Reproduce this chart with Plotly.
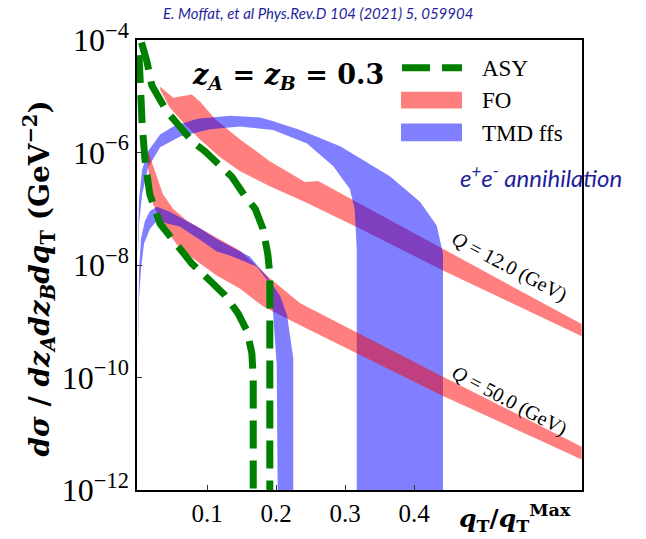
import plotly.graph_objects as go

# ---------------- data ----------------
# asymptotic (ASY) curves
asy12_x = [0.005, 0.013, 0.020, 0.032, 0.042, 0.054, 0.080, 0.097, 0.123, 0.136, 0.155, 0.170, 0.181, 0.188, 0.191, 0.191]
asy12_y = [9.0e-5, 4.1e-5, 1.55e-5, 8.7e-6, 5.3e-6, 3.6e-6, 1.51e-6, 1.05e-6, 5.4e-7, 3.7e-7, 1.68e-7, 9.9e-8, 4.4e-8, 1.59e-8, 7.0e-9, 1e-13]

asy50_x = [0.0014, 0.003, 0.006, 0.010, 0.017, 0.032, 0.054, 0.078, 0.104, 0.126, 0.145, 0.158, 0.165, 0.167, 0.167]
asy50_y = [5.4e-5, 1.31e-5, 3.15e-6, 7.6e-7, 1.82e-7, 5.4e-8, 2.4e-8, 1.06e-8, 5.3e-9, 2.9e-9, 1.38e-9, 6.7e-10, 2.7e-10, 9.8e-11, 1e-13]

# fixed-order (FO) bands: upper and lower edges
fo12_xu = [0.032, 0.051, 0.078, 0.090, 0.112, 0.148, 0.191, 0.242, 0.261, 0.322, 0.442, 0.643]
fo12_yu = [1.48e-5, 9.4e-6, 1.07e-5, 8.0e-6, 3.9e-6, 1.71e-6, 7.0e-7, 3.0e-7, 3.1e-7, 1.22e-7, 1.95e-8, 8.9e-10]
fo12_xl = [0.032, 0.046, 0.068, 0.090, 0.119, 0.148, 0.191, 0.242, 0.322, 0.442, 0.643]
fo12_yl = [1.31e-5, 6.3e-6, 3.15e-6, 1.71e-6, 8.2e-7, 4.65e-7, 2.5e-7, 1.32e-7, 4.4e-8, 8.0e-9, 5.4e-10]

fo50_xu = [0.0145, 0.0246, 0.036, 0.051, 0.071, 0.109, 0.148, 0.191, 0.235, 0.442, 0.643]
fo50_yu = [1.05e-6, 4.5e-7, 1.82e-7, 9.9e-8, 6.1e-8, 3.3e-8, 1.8e-8, 5.8e-9, 2.1e-9, 1.03e-10, 5.9e-12]
fo50_xl = [0.0145, 0.0217, 0.036, 0.061, 0.086, 0.114, 0.148, 0.181, 0.235, 0.442, 0.643]
fo50_yl = [5.4e-7, 1.22e-7, 5.0e-8, 1.95e-8, 1.15e-8, 6.5e-9, 3.8e-9, 1.84e-9, 8.5e-10, 4.7e-11, 3.5e-12]

# TMD ffs bands: upper and lower edges
tmd12_xu = [0.0, 0.0015, 0.006, 0.0145, 0.032, 0.051, 0.086, 0.133, 0.177, 0.196, 0.235, 0.293, 0.365, 0.409, 0.433, 0.442, 0.442]
tmd12_yu = [2.9e-8, 1.49e-7, 5.0e-7, 1.05e-6, 2.1e-6, 2.9e-6, 4.0e-6, 4.5e-6, 4.2e-6, 3.6e-6, 2.5e-6, 1.29e-6, 3.8e-7, 1.32e-7, 5.0e-8, 1.59e-8, 1e-13]
tmd12_xl = [0.0, 0.0015, 0.006, 0.0145, 0.032, 0.061, 0.104, 0.148, 0.196, 0.245, 0.283, 0.307, 0.314, 0.317, 0.317]
tmd12_yl = [1.59e-8, 5.4e-8, 1.82e-7, 5.4e-7, 1.24e-6, 1.93e-6, 2.6e-6, 2.9e-6, 2.5e-6, 1.45e-6, 5.7e-7, 2.24e-7, 9.9e-8, 1.95e-8, 1e-13]

tmd50_xu = [0.0, 0.0015, 0.0043, 0.010, 0.0174, 0.0275, 0.046, 0.086, 0.114, 0.162, 0.187, 0.206, 0.216, 0.225, 0.225]
tmd50_yu = [7.5e-10, 8.6e-9, 2.9e-8, 6.1e-8, 9.1e-8, 1.08e-7, 8.8e-8, 4.8e-8, 2.9e-8, 1.41e-8, 6.2e-9, 2.8e-9, 1.28e-9, 2.2e-10, 1e-13]
tmd50_xl = [0.0, 0.0015, 0.0043, 0.0087, 0.0174, 0.0275, 0.061, 0.094, 0.114, 0.133, 0.172, 0.191, 0.196, 0.201, 0.203]
tmd50_yl = [4.1e-10, 2.5e-9, 8.6e-9, 2.4e-8, 4.4e-8, 6.1e-8, 4.8e-8, 2.6e-8, 1.73e-8, 1.47e-8, 9.4e-9, 4.7e-9, 1.28e-9, 1.67e-10, 1e-13]

# axis ticks
y_ticks = [1e-12, 1e-10, 1e-8, 1e-6, 1e-4]
y_ticktext = ["10<sup>\u221212</sup>", "10<sup>\u221210</sup>", "10<sup>\u22128</sup>",
              "10<sup>\u22126</sup>", "10<sup>\u22124</sup>"]
x_ticks = [0.1, 0.2, 0.3, 0.4]
x_ticktext = ["0.1", "0.2", "0.3", "0.4"]

# ---------------- styles ----------------
RED = "rgba(255,0,0,0.5)"
BLUE = "rgba(0,0,255,0.5)"
GREEN = "#008000"
NAVY = "#1f1f9c"
SERIF = "Liberation Serif"
MATH = "DejaVu Serif"
DASH = "28px,12px"


def band(xu, yu, xl, yl):
    return xu + xl[::-1], yu + yl[::-1]


fig = go.Figure()


def add_band(xu, yu, xl, yl, color):
    bx, by = band(xu, yu, xl, yl)
    fig.add_trace(go.Scatter(x=bx, y=by, mode="lines", fill="toself",
                             fillcolor=color, line=dict(width=0),
                             hoverinfo="skip", showlegend=False))


add_band(fo12_xu, fo12_yu, fo12_xl, fo12_yl, RED)
add_band(tmd12_xu, tmd12_yu, tmd12_xl, tmd12_yl, BLUE)
add_band(fo50_xu, fo50_yu, fo50_xl, fo50_yl, RED)
add_band(tmd50_xu, tmd50_yu, tmd50_xl, tmd50_yl, BLUE)

for ax, ay in [(asy12_x, asy12_y), (asy50_x, asy50_y)]:
    fig.add_trace(go.Scatter(x=ax, y=ay, mode="lines",
                             line=dict(color=GREEN, width=7, dash=DASH),
                             hoverinfo="skip", showlegend=False))

# plot area spans pixels x 137..582, y 40..493
L, R, T, B = 137, 582, 40, 493


def xp(px):
    return (px - L) / (R - L)


def yp(py):
    return (B - py) / (B - T)


shapes = [
    dict(type="line", xref="paper", yref="paper", x0=xp(402), x1=xp(462),
         y0=yp(68), y1=yp(68), line=dict(color=GREEN, width=7, dash=DASH)),
    dict(type="rect", xref="paper", yref="paper", x0=xp(401), x1=xp(462),
         y0=yp(109), y1=yp(92), fillcolor=RED, line=dict(width=0)),
    dict(type="rect", xref="paper", yref="paper", x0=xp(401), x1=xp(462),
         y0=yp(142), y1=yp(124), fillcolor=BLUE, line=dict(width=0)),
]


def note(text, x, y, size, color="black", family=SERIF, angle=0, xanchor="center"):
    return dict(text=text, x=x, y=y, xref="paper", yref="paper", showarrow=False,
                xanchor=xanchor, yanchor="middle", textangle=angle,
                font=dict(size=size, color=color, family=family))


annotations = [
    note("ASY", xp(480), yp(69), 23, xanchor="left"),
    note("FO", xp(480), yp(101), 23, xanchor="left"),
    note("TMD ffs", xp(480), yp(134), 23, xanchor="left"),
    note("<b><i>z</i><sub><i>A</i></sub> = <i>z</i><sub><i>B</i></sub> = 0.3</b>",
         xp(288), yp(77), 27, family=MATH),
    note("<i>e<sup>+</sup>e<sup>-</sup> annihilation</i>", xp(458), yp(177), 24,
         color=NAVY, family="Lato", xanchor="left"),
    note("<i>E. Moffat, et al Phys.Rev.D 104 (2021) 5, 059904</i>", xp(318), yp(13), 15,
         color=NAVY, family="Lato"),
    note("<i>Q</i> = 12.0 (GeV)", xp(509), yp(268), 20, angle=28),
    note("<i>Q</i> = 50.0 (GeV)", xp(509), yp(403), 20, angle=28),
    note("<b><i>q</i><sub>T</sub>/<i>q</i><sub>T</sub><sup>Max</sup></b>",
         xp(515), yp(521), 25, family=MATH),
]

axis_common = dict(showline=True, linecolor="black", linewidth=1.5, mirror=True,
                   ticks="inside", ticklen=5, tickwidth=1.2, tickcolor="#333",
                   showgrid=False, zeroline=False)

y_title = ("<b><i>d\u03c3</i> / <i>dz</i><sub><i>A</i></sub><i>dz</i><sub><i>B</i></sub>"
           "<i>dq</i><sub>T</sub> (GeV<sup>\u22122</sup>)</b>&nbsp;&nbsp;&nbsp;")

fig.update_layout(
    width=646, height=539, autosize=False,
    margin=dict(l=L, r=646 - R, t=T, b=539 - B),
    paper_bgcolor="white", plot_bgcolor="white",
    showlegend=False,
    xaxis=dict(range=[-0.0015, 0.6435], tickvals=x_ticks, ticktext=x_ticktext,
               tickfont=dict(family=SERIF, size=25, color="black"), **axis_common),
    yaxis=dict(type="log", range=[-12, -4], tickvals=y_ticks, ticktext=y_ticktext,
               tickfont=dict(family=SERIF, size=32, color="black"),
               title=dict(text=y_title, standoff=4,
                          font=dict(family=MATH, size=28, color="black")),
               **axis_common),
    shapes=shapes,
    annotations=annotations,
)

fig.write_html("out.html")
